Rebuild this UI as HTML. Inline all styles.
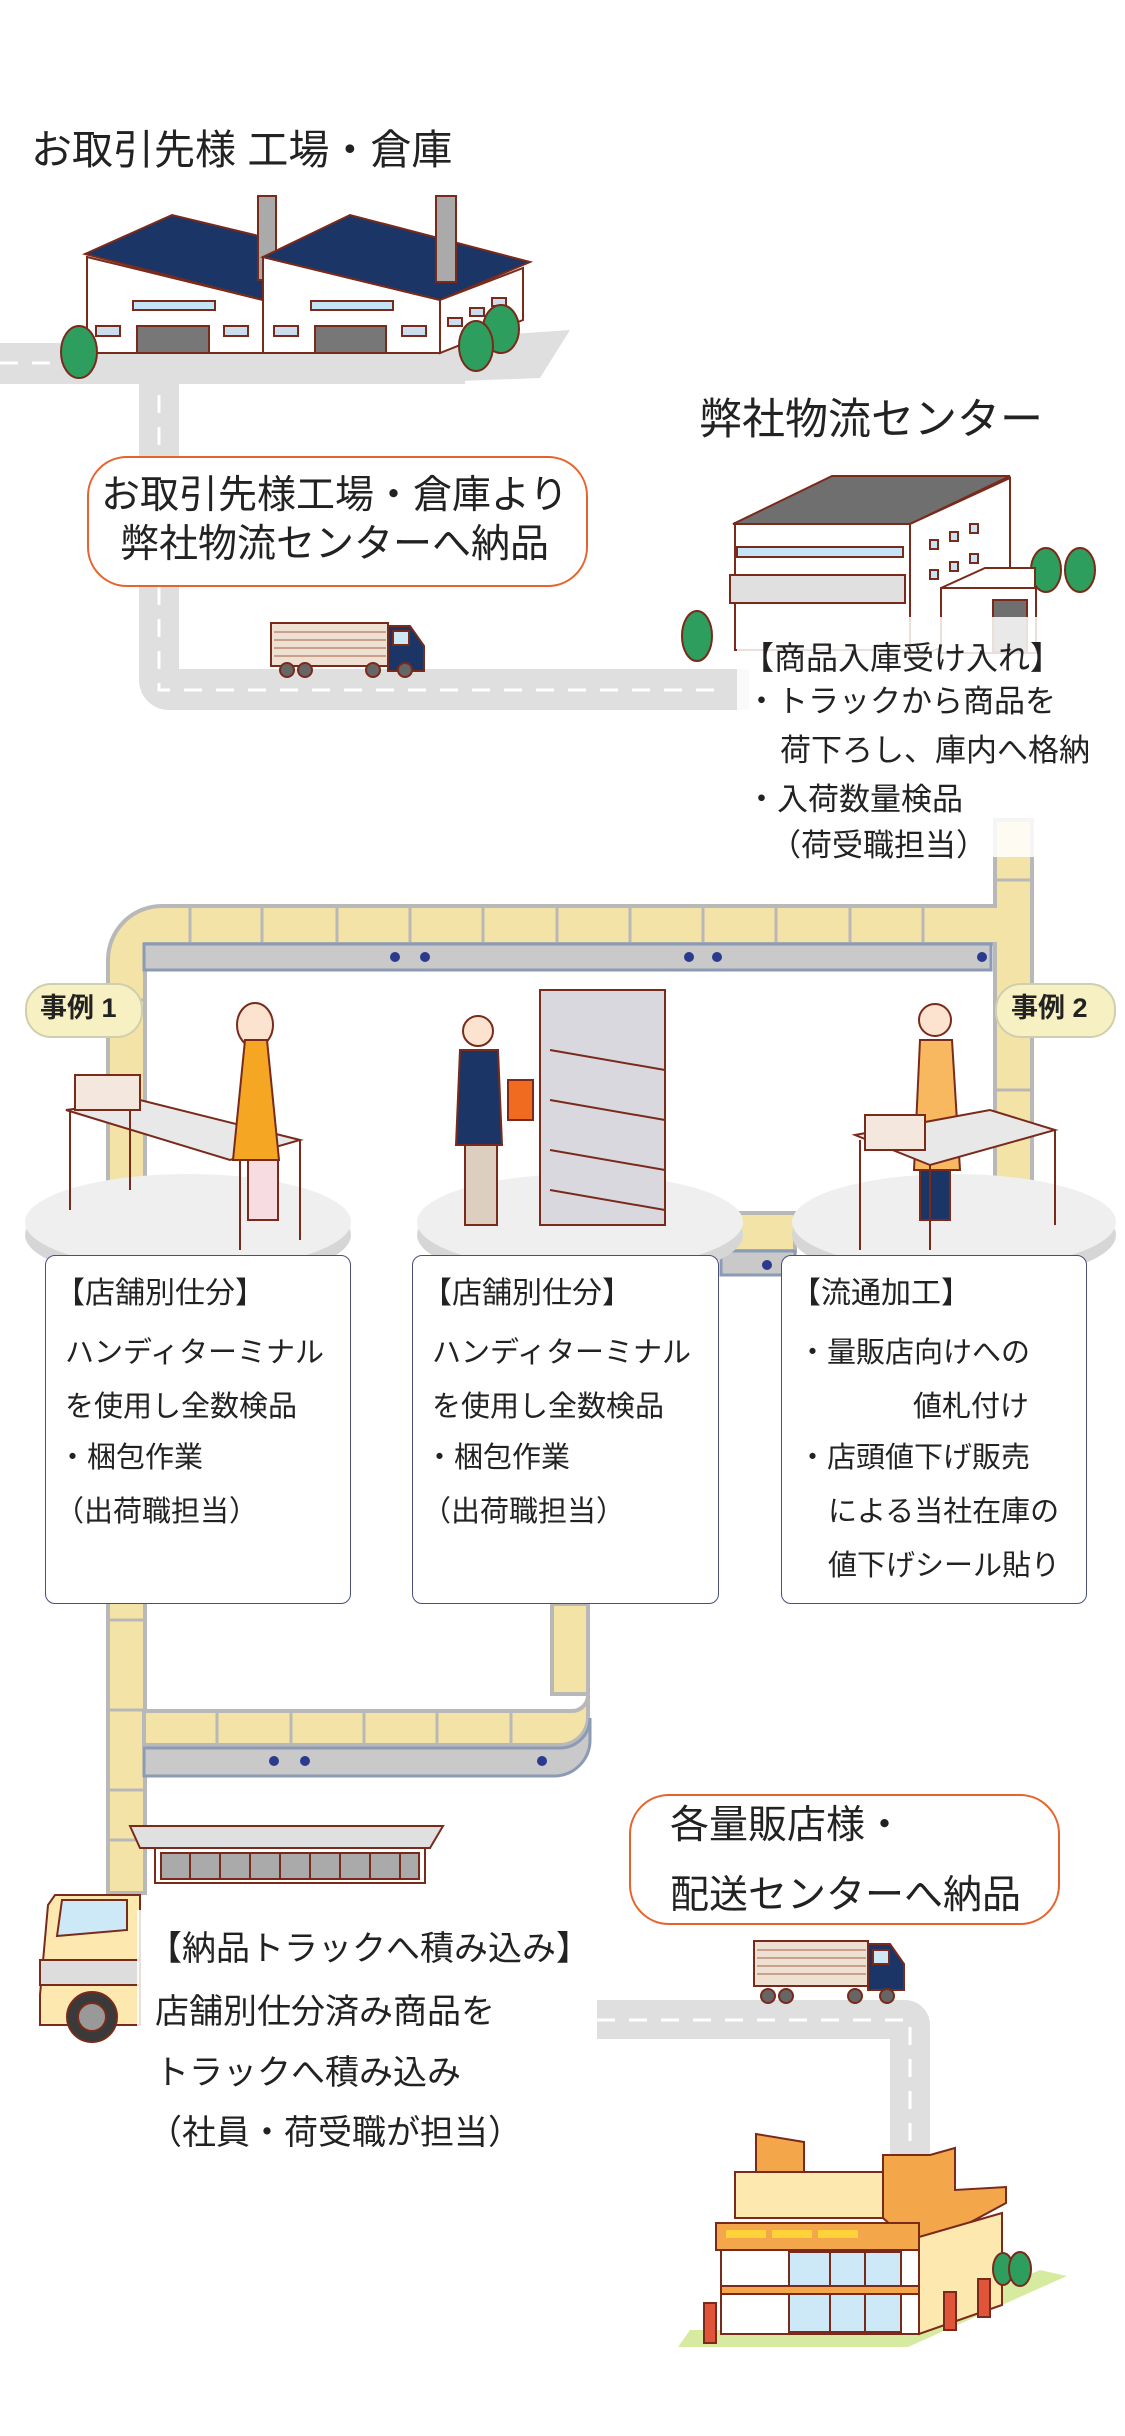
<!DOCTYPE html>
<html><head><meta charset="utf-8"><style>
html,body{margin:0;padding:0;background:#fff;}
#w{position:relative;width:1125px;height:2436px;overflow:hidden;font-family:"Liberation Sans","Noto Sans CJK JP",sans-serif;color:#222;}
.t{position:absolute;white-space:nowrap;line-height:1;}
svg{position:absolute;left:0;top:0;}
</style></head><body><div id="w">
<svg width="1125" height="2436" viewBox="0 0 1125 2436">
<!-- road 1 -->
<g fill="#dfdfdf">
<rect x="0" y="343" width="465" height="41"/>
<polygon points="380,343 570,330 540,378 380,384"/>
<path d="M139,343 h40 v326 h570 v41 h-580 a30,30 0 0 1 -30,-30 z"/>
</g>
<g stroke="#fff" stroke-width="3" stroke-dasharray="18,14" fill="none">
<line x1="0" y1="363" x2="80" y2="363"/>
<path d="M159,395 V690 H720"/>
</g>
<!-- factories -->
<g stroke="#7a2a1a" stroke-width="2">
<polygon points="87,257 263,300 263,353 87,353" fill="#fff"/>
<polygon points="85,254 172,215 263,237 263,300" fill="#1b3566"/>
<rect x="258" y="196" width="18" height="84" fill="#aaa"/>
<polygon points="263,257 440,300 440,353 263,353" fill="#fff"/>
<polygon points="263,257 350,215 530,262 440,300" fill="#1b3566"/>
<polygon points="440,300 523,268 523,320 440,353" fill="#fff"/>
<rect x="436" y="196" width="20" height="86" fill="#aaa"/>
<rect x="137" y="326" width="72" height="27" fill="#777"/>
<rect x="315" y="326" width="71" height="27" fill="#777"/>
<rect x="133" y="301" width="82" height="9" fill="#c6e4f7"/>
<rect x="311" y="301" width="82" height="9" fill="#c6e4f7"/>
<rect x="96" y="326" width="24" height="10" fill="#cde"/>
<rect x="224" y="326" width="24" height="10" fill="#cde"/>
<rect x="274" y="326" width="24" height="10" fill="#cde"/>
<rect x="402" y="326" width="24" height="10" fill="#cde"/>
<rect x="448" y="318" width="14" height="8" fill="#cde"/><rect x="470" y="308" width="14" height="8" fill="#cde"/><rect x="492" y="298" width="14" height="8" fill="#cde"/>
</g>
<g fill="#2e9e5f" stroke="#7a2a1a" stroke-width="2">
<ellipse cx="79" cy="352" rx="18" ry="26"/>
<ellipse cx="501" cy="329" rx="18" ry="24"/>
<ellipse cx="476" cy="346" rx="17" ry="25"/>
<ellipse cx="697" cy="636" rx="15" ry="25"/>
<ellipse cx="1046" cy="570" rx="15" ry="22"/>
<ellipse cx="1080" cy="570" rx="15" ry="22"/>
</g>
<!-- truck 1 -->
<g stroke="#7a2a1a" stroke-width="2">
<rect x="271" y="623" width="117" height="43" fill="#efe0d4"/>
<g stroke="#c9a08a" stroke-width="2"><line x1="274" y1="632" x2="386" y2="632"/><line x1="274" y1="640" x2="386" y2="640"/><line x1="274" y1="648" x2="386" y2="648"/><line x1="274" y1="656" x2="386" y2="656"/></g>
<path d="M388,626 h22 l14,20 v25 h-36 z" fill="#1b3566"/>
<rect x="393" y="631" width="16" height="14" fill="#cde9f8"/>
<circle cx="287" cy="670" r="7" fill="#666"/><circle cx="305" cy="670" r="7" fill="#666"/>
<circle cx="373" cy="670" r="7" fill="#666"/><circle cx="405" cy="670" r="7" fill="#666"/>
</g>
<!-- warehouse -->
<g stroke="#7a2a1a" stroke-width="2">
<polygon points="735,523 911,523 911,650 735,650" fill="#fff"/>
<polygon points="733,524 832,476 1010,476 910,524" fill="#6f6f6f"/>
<polygon points="910,524 1010,478 1010,620 910,660" fill="#fff"/>
<rect x="737" y="547" width="166" height="10" fill="#c6e4f7"/>
<rect x="730" y="575" width="175" height="28" fill="#e0e0e0"/>
<rect x="930" y="540" width="8" height="9" fill="#c6e4f7"/><rect x="950" y="532" width="8" height="9" fill="#c6e4f7"/><rect x="970" y="524" width="8" height="9" fill="#c6e4f7"/>
<rect x="930" y="570" width="8" height="9" fill="#c6e4f7"/><rect x="950" y="562" width="8" height="9" fill="#c6e4f7"/><rect x="970" y="554" width="8" height="9" fill="#c6e4f7"/>
<rect x="941" y="588" width="95" height="65" fill="#fff"/>
<polygon points="941,588 985,568 1035,568 1035,588" fill="#fff"/>
<rect x="993" y="600" width="34" height="52" fill="#6f6f6f"/>
</g>
<!-- conveyor -->
<g fill="#f3e3a6" stroke="#b8b8b8" stroke-width="4">
<path d="M108,1893 V960 a54,54 0 0 1 54,-54 H995 V820 h37 V1240 h-37 V944 H145 V1893 z"/>
<rect x="721" y="1213" width="74" height="38"/>
<rect x="552" y="1604" width="36" height="90"/>
<path d="M588,1604 V1695 a16,16 0 0 1 -16,16 H144 v34 H560 a28,28 0 0 0 28,-28 z"/>
</g>
<g stroke="#b8b8b8" stroke-width="3">
<line x1="190" y1="906" x2="190" y2="944"/><line x1="262" y1="906" x2="262" y2="944"/><line x1="337" y1="906" x2="337" y2="944"/><line x1="410" y1="906" x2="410" y2="944"/><line x1="483" y1="906" x2="483" y2="944"/><line x1="557" y1="906" x2="557" y2="944"/><line x1="630" y1="906" x2="630" y2="944"/><line x1="703" y1="906" x2="703" y2="944"/><line x1="776" y1="906" x2="776" y2="944"/><line x1="850" y1="906" x2="850" y2="944"/><line x1="923" y1="906" x2="923" y2="944"/>
<line x1="995" y1="880" x2="1032" y2="880"/><line x1="995" y1="1000" x2="1032" y2="1000"/><line x1="995" y1="1090" x2="1032" y2="1090"/>
<line x1="108" y1="1000" x2="145" y2="1000"/><line x1="108" y1="1620" x2="145" y2="1620"/><line x1="108" y1="1710" x2="145" y2="1710"/><line x1="108" y1="1790" x2="145" y2="1790"/><line x1="108" y1="1840" x2="145" y2="1840"/>
<line x1="217" y1="1711" x2="217" y2="1745"/><line x1="291" y1="1711" x2="291" y2="1745"/><line x1="364" y1="1711" x2="364" y2="1745"/><line x1="437" y1="1711" x2="437" y2="1745"/><line x1="511" y1="1711" x2="511" y2="1745"/>
</g>
<rect x="144" y="944" width="847" height="26" fill="#c9c9c9" stroke="#8c9bb5" stroke-width="3"/>
<rect x="721" y="1251" width="74" height="24" fill="#c9c9c9" stroke="#8c9bb5" stroke-width="3"/>
<path d="M144,1748 H560 a30,30 0 0 0 30,-30 V1740 a36,36 0 0 1 -36,36 H144 z" fill="#c9c9c9" stroke="#8c9bb5" stroke-width="3"/>
<g fill="#2b3a8c">
<circle cx="395" cy="957" r="5"/><circle cx="425" cy="957" r="5"/><circle cx="689" cy="957" r="5"/><circle cx="717" cy="957" r="5"/><circle cx="982" cy="957" r="5"/><circle cx="767" cy="1265" r="5"/>
<circle cx="274" cy="1761" r="5"/><circle cx="305" cy="1761" r="5"/><circle cx="542" cy="1761" r="5"/>
</g>
<!-- platforms -->
<g fill="#d6d6d6">
<ellipse cx="188" cy="1235" rx="163" ry="48"/>
<ellipse cx="580" cy="1235" rx="163" ry="48"/>
<ellipse cx="954" cy="1235" rx="162" ry="48"/>
</g>
<g fill="#efefef">
<ellipse cx="188" cy="1222" rx="163" ry="48"/>
<ellipse cx="580" cy="1222" rx="163" ry="48"/>
<ellipse cx="954" cy="1222" rx="162" ry="48"/>
</g>
<!-- worker scenes (simplified) -->
<g stroke="#7a2a1a" stroke-width="2">
<polygon points="66,1110 230,1160 300,1140 140,1100" fill="#e8e8e8"/>
<line x1="70" y1="1112" x2="70" y2="1210" /><line x1="130" y1="1100" x2="130" y2="1190"/><line x1="240" y1="1160" x2="240" y2="1250"/><line x1="300" y1="1140" x2="300" y2="1240"/>
<rect x="75" y="1075" width="65" height="35" fill="#f4e8de"/>
<ellipse cx="255" cy="1025" rx="18" ry="22" fill="#fbe3cf"/>
<path d="M245,1040 h22 l12,120 h-46 z" fill="#f5a623"/>
<rect x="248" y="1160" width="30" height="60" fill="#f7dde2"/>
<rect x="540" y="990" width="125" height="235" fill="#d8d8de"/>
<g stroke="#7a2a1a"><line x1="550" y1="1050" x2="665" y2="1070"/><line x1="550" y1="1100" x2="665" y2="1120"/><line x1="550" y1="1150" x2="665" y2="1170"/><line x1="550" y1="1190" x2="665" y2="1210"/></g>
<circle cx="478" cy="1031" r="15" fill="#fbe3cf"/>
<path d="M460,1050 h38 l4,95 h-46 z" fill="#1b3566"/>
<rect x="465" y="1145" width="32" height="80" fill="#dccfc0"/>
<rect x="508" y="1080" width="25" height="40" fill="#f06a20"/>
<circle cx="935" cy="1020" r="16" fill="#fbe3cf"/>
<path d="M920,1040 h32 l8,130 h-46 z" fill="#f7b860"/>
<rect x="920" y="1170" width="30" height="50" fill="#1b3566"/>
<polygon points="855,1135 990,1110 1055,1130 930,1165" fill="#e8e8e8"/>
<line x1="860" y1="1140" x2="860" y2="1250"/><line x1="930" y1="1165" x2="930" y2="1250"/><line x1="1055" y1="1130" x2="1055" y2="1225"/>
<rect x="865" y="1115" width="60" height="35" fill="#f4e8de"/>
</g>
<!-- lower road -->
<path d="M597,2000 H905 a25,25 0 0 1 25,25 V2160 H890 V2039 H597 z" fill="#dfdfdf"/>
<path d="M597,2020 H910 V2150" stroke="#fff" stroke-width="3" stroke-dasharray="18,14" fill="none"/>
<!-- truck 2 -->
<g stroke="#7a2a1a" stroke-width="2">
<rect x="754" y="1941" width="114" height="45" fill="#efe0d4"/>
<g stroke="#c9a08a"><line x1="757" y1="1950" x2="866" y2="1950"/><line x1="757" y1="1958" x2="866" y2="1958"/><line x1="757" y1="1966" x2="866" y2="1966"/><line x1="757" y1="1974" x2="866" y2="1974"/></g>
<path d="M868,1944 h22 l14,20 v26 h-36 z" fill="#1b3566"/>
<rect x="873" y="1950" width="16" height="14" fill="#cde9f8"/>
<circle cx="768" cy="1996" r="7" fill="#666"/><circle cx="786" cy="1996" r="7" fill="#666"/>
<circle cx="855" cy="1996" r="7" fill="#666"/><circle cx="887" cy="1996" r="7" fill="#666"/>
</g>
<!-- big truck -->
<g stroke="#7a2a1a" stroke-width="2">
<polygon points="130,1826 443,1826 430,1848 140,1848" fill="#e0e0e0"/>
<rect x="155" y="1848" width="270" height="35" fill="#fff"/>
<rect x="161" y="1853" width="258" height="26" fill="#aaa"/>
<g stroke="#7a2a1a"><line x1="190" y1="1853" x2="190" y2="1879"/><line x1="220" y1="1853" x2="220" y2="1879"/><line x1="250" y1="1853" x2="250" y2="1879"/><line x1="280" y1="1853" x2="280" y2="1879"/><line x1="310" y1="1853" x2="310" y2="1879"/><line x1="340" y1="1853" x2="340" y2="1879"/><line x1="370" y1="1853" x2="370" y2="1879"/><line x1="400" y1="1853" x2="400" y2="1879"/></g>
<path d="M55,1895 h85 v130 h-100 v-30 l8,-90 z" fill="#fde9b0"/>
<path d="M62,1900 h65 v30 l-70,6 z" fill="#cde9f8"/>
<rect x="40" y="1960" width="100" height="25" fill="#ddd"/>
<circle cx="92" cy="2017" r="25" fill="#3a3a3a"/><circle cx="92" cy="2017" r="14" fill="#999"/>
</g>
<!-- store -->
<polygon points="678,2347 908,2347 1067,2276 1040,2270 900,2330 690,2330" fill="#d7eba0"/>
<g stroke="#7a2a1a" stroke-width="2">
<polygon points="756,2134 804,2142 804,2189 756,2181" fill="#f4a64a"/>
<rect x="735" y="2172" width="150" height="46" fill="#fde9b0"/>
<polygon points="883,2155 930,2155 955,2148 955,2190 1006,2187 1006,2203 919,2250 883,2218" fill="#f4a64a"/>
<rect x="716" y="2223" width="203" height="27" fill="#f4a64a"/>
<rect x="726" y="2230" width="40" height="8" fill="#ffd23a" stroke="none"/><rect x="772" y="2230" width="40" height="8" fill="#ffd23a" stroke="none"/><rect x="818" y="2230" width="40" height="8" fill="#ffd23a" stroke="none"/>
<rect x="721" y="2250" width="198" height="84" fill="#fff"/>
<rect x="789" y="2252" width="112" height="80" fill="#cde9f8"/>
<line x1="789" y1="2292" x2="901" y2="2292"/><line x1="830" y1="2252" x2="830" y2="2332"/><line x1="865" y1="2252" x2="865" y2="2332"/>
<rect x="721" y="2286" width="198" height="8" fill="#f4a64a"/>
<polygon points="919,2237 1002,2213 1002,2305 919,2334" fill="#fde9b0"/>
<rect x="704" y="2303" width="12" height="40" fill="#e0543a"/>
<rect x="944" y="2292" width="12" height="38" fill="#e0543a"/>
<rect x="978" y="2279" width="12" height="38" fill="#e0543a"/>
<ellipse cx="1003" cy="2269" rx="10" ry="16" fill="#2e9e5f"/>
<ellipse cx="1020" cy="2269" rx="11" ry="17" fill="#2e9e5f"/>
</g>
</svg>
<!-- translucent text backgrounds -->
<div style="position:absolute;left:737px;top:617px;width:300px;height:240px;background:rgba(255,255,255,0.85);"></div>
<div style="position:absolute;left:137px;top:1910px;width:460px;height:150px;background:rgba(255,255,255,0.85);"></div>
<!-- boxes -->
<div style="position:absolute;left:87px;top:456px;width:497px;height:127px;border:2px solid #e8632b;border-radius:40px;background:#fff;"></div>
<div style="position:absolute;left:629px;top:1794px;width:427px;height:127px;border:2px solid #e8632b;border-radius:40px;background:#fff;"></div>
<div style="position:absolute;left:25px;top:983px;width:114px;height:51px;border:2px solid #cfcfb0;border-radius:26px;background:#f7f0c2;"></div>
<div style="position:absolute;left:995px;top:983px;width:117px;height:51px;border:2px solid #cfcfb0;border-radius:26px;background:#f7f0c2;"></div>
<div style="position:absolute;left:45px;top:1255px;width:304px;height:347px;border:1.5px solid #4a4f7a;border-radius:10px;background:#fff;"></div>
<div style="position:absolute;left:412px;top:1255px;width:305px;height:347px;border:1.5px solid #4a4f7a;border-radius:10px;background:#fff;"></div>
<div style="position:absolute;left:781px;top:1255px;width:304px;height:347px;border:1.5px solid #4a4f7a;border-radius:10px;background:#fff;"></div>
<!-- text -->
<div class="t" style="left:31px;top:130px;font-size:41px;">お取引先様 工場・倉庫</div>
<div class="t" style="left:699px;top:399px;font-size:43px;">弊社物流センター</div>
<div class="t" style="left:101px;top:476px;font-size:39px;">お取引先様工場・倉庫より</div>
<div class="t" style="left:120px;top:525px;font-size:39px;">弊社物流センターへ納品</div>
<div class="t" style="left:742px;top:642px;font-size:32px;">【商品入庫受け入れ】</div>
<div class="t" style="left:746px;top:686px;font-size:31px;">・トラックから商品を</div>
<div class="t" style="left:780px;top:735px;font-size:31px;">荷下ろし、庫内へ格納</div>
<div class="t" style="left:746px;top:784px;font-size:31px;">・入荷数量検品</div>
<div class="t" style="left:770px;top:830px;font-size:31px;">（荷受職担当）</div>
<div class="t" style="left:40px;top:995px;font-size:27px;font-weight:bold;">事例 1</div>
<div class="t" style="left:1011px;top:995px;font-size:27px;font-weight:bold;">事例 2</div>
<div class="t" style="left:55px;top:1279px;font-size:30px;">【店舗別仕分】</div>
<div class="t" style="left:65px;top:1339px;font-size:29px;">ハンディターミナル</div>
<div class="t" style="left:65px;top:1393px;font-size:29px;">を使用し全数検品</div>
<div class="t" style="left:58px;top:1444px;font-size:29px;">・梱包作業</div>
<div class="t" style="left:55px;top:1498px;font-size:29px;">（出荷職担当）</div>
<div class="t" style="left:422px;top:1279px;font-size:30px;">【店舗別仕分】</div>
<div class="t" style="left:432px;top:1339px;font-size:29px;">ハンディターミナル</div>
<div class="t" style="left:432px;top:1393px;font-size:29px;">を使用し全数検品</div>
<div class="t" style="left:425px;top:1444px;font-size:29px;">・梱包作業</div>
<div class="t" style="left:422px;top:1498px;font-size:29px;">（出荷職担当）</div>
<div class="t" style="left:791px;top:1279px;font-size:30px;">【流通加工】</div>
<div class="t" style="left:798px;top:1339px;font-size:29px;">・量販店向けへの</div>
<div class="t" style="left:913px;top:1393px;font-size:29px;">値札付け</div>
<div class="t" style="left:798px;top:1444px;font-size:29px;">・店頭値下げ販売</div>
<div class="t" style="left:828px;top:1498px;font-size:29px;">による当社在庫の</div>
<div class="t" style="left:828px;top:1552px;font-size:29px;">値下げシール貼り</div>
<div class="t" style="left:670px;top:1806px;font-size:39px;">各量販店様・</div>
<div class="t" style="left:670px;top:1876px;font-size:39px;">配送センターへ納品</div>
<div class="t" style="left:148px;top:1932px;font-size:34px;">【納品トラックへ積み込み】</div>
<div class="t" style="left:155px;top:1995px;font-size:34px;">店舗別仕分済み商品を</div>
<div class="t" style="left:155px;top:2056px;font-size:34px;">トラックへ積み込み</div>
<div class="t" style="left:148px;top:2116px;font-size:34px;">（社員・荷受職が担当）</div>
</div></body></html>
